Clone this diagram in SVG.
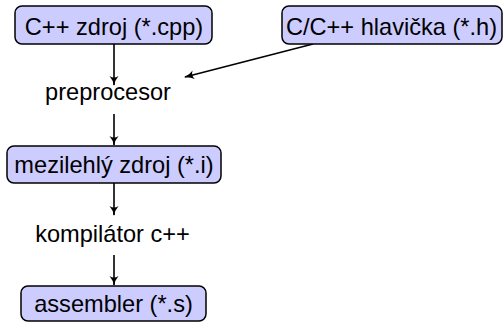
<svg xmlns="http://www.w3.org/2000/svg" width="503" height="322" viewBox="0 0 503 322">
<style>
.box{fill:#ccccff;stroke:#000;stroke-width:1.5}
.t{font-family:"Liberation Sans",Arial,sans-serif;font-size:23.6px;fill:#000;text-anchor:middle}
.c{stroke:#000;stroke-width:1.6;fill:none}
</style>
<defs>
<marker id="ah" viewBox="0 0 10 10" refX="9" refY="5" markerWidth="10" markerHeight="10" markerUnits="userSpaceOnUse" orient="auto">
<path d="M0,0.5 Q4,4 10,5 Q4,6 0,9.5 Q3,5 0,0.5 Z" fill="#000"/>
</marker>
</defs>
<g id="connectors">
<line class="c" x1="114" y1="44" x2="114" y2="85" marker-end="url(#ah)"/>
<line class="c" x1="313" y1="44" x2="185" y2="77" marker-end="url(#ah)"/>
<line class="c" x1="114" y1="114" x2="114" y2="145" marker-end="url(#ah)"/>
<line class="c" x1="114" y1="183" x2="114" y2="215" marker-end="url(#ah)"/>
<line class="c" x1="114" y1="255" x2="114" y2="285" marker-end="url(#ah)"/>
</g>
<g id="cpp">
<rect class="box" x="15" y="6" width="197" height="38" rx="7"/>
<text class="t" x="114" y="35">C++ zdroj (*.cpp)</text>
</g>
<g id="header">
<rect class="box" x="282" y="6" width="220" height="38" rx="7"/>
<text class="t" x="391.5" y="35">C/C++ hlavička (*.h)</text>
</g>
<g id="preprocesor">
<text class="t" x="108" y="100">preprocesor</text>
</g>
<g id="intermediate">
<rect class="box" x="7" y="146" width="214" height="37" rx="7"/>
<text class="t" x="114" y="173">mezilehlý zdroj (*.i)</text>
</g>
<g id="compiler">
<text class="t" x="112.5" y="242">kompilátor c++</text>
</g>
<g id="assembler">
<rect class="box" x="21" y="286" width="185" height="35" rx="7"/>
<text class="t" x="113.5" y="312">assembler (*.s)</text>
</g>
</svg>
